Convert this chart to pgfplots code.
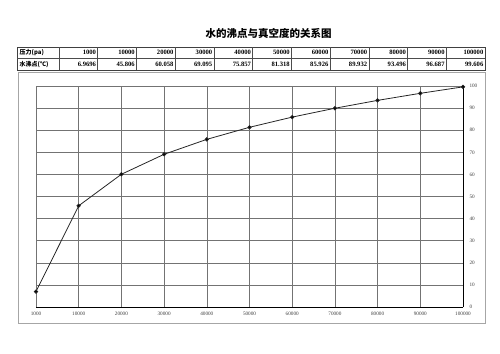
\documentclass[border=0pt]{standalone}
\usepackage{fontspec}
\setmainfont{Liberation Serif}
\newfontfamily\cjk{Noto Sans CJK SC}
\usepackage{pgfplots}
\pgfplotsset{compat=1.18}
\begin{document}
\begin{tikzpicture}[x=1pt,y=1pt]
\path[use as bounding box] (0,0) rectangle (500,353);
% title
\node[font=\cjk\bfseries\fontsize{10.5}{12}\selectfont] at (268.5,320) {水的沸点与真空度的关系图};
% table
\draw[line width=0.8pt,black!75] (17,282.5) rectangle (485,306);
\draw[line width=0.6pt,black!70] (17,294.5) -- (485,294.5);
\foreach \c in {59,97.73,136.45,175.18,213.91,252.64,291.36,330.09,368.82,407.55,446.27}
  \draw[line width=0.6pt,black!70] (\c,282.5) -- (\c,306);
\node[anchor=west,font=\cjk\bfseries\fontsize{6}{7}\selectfont,inner sep=0pt] at (19.5,300.2) {压力(pa)};
\node[anchor=west,font=\cjk\bfseries\fontsize{6}{7}\selectfont,inner sep=0pt] at (19.5,288.5) {水沸点(℃)};
\foreach \r/\p/\t in {97.73/1000/6.9696,136.45/10000/45.806,175.18/20000/60.058,213.91/30000/69.095,252.64/40000/75.857,291.36/50000/81.318,330.09/60000/85.926,368.82/70000/89.932,407.55/80000/93.496,446.27/90000/96.687,485/100000/99.606}{
  \node[anchor=east,font=\bfseries\fontsize{6.6}{7.5}\selectfont,inner sep=0pt] at (\r-1.5,300.2) {\p};
  \node[anchor=east,font=\bfseries\fontsize{6.6}{7.5}\selectfont,inner sep=0pt] at (\r-1.5,288.5) {\t};
}
% frame
\draw[line width=0.8pt,black!35] (18.5,30) rectangle (485,281);
\begin{axis}[
  at={(36pt,46pt)}, anchor=south west,
  scale only axis, width=427pt, height=221pt,
  xmin=0, xmax=10, ymin=0, ymax=100,
  xtick={0,...,10},
  xticklabels={1000,10000,20000,30000,40000,50000,60000,70000,80000,90000,100000},
  ytick={0,10,...,100},
  yticklabel pos=right,
  axis x line=bottom, axis y line=right,
  axis line style={-, black, line width=0.9pt},
  grid=major, grid style={black!55, line width=0.5pt},
  major tick length=0pt,
  /pgf/number format/assume math mode=true,
  ticklabel style={font=\fontsize{5.2}{6}\selectfont, text=black!75},
  xticklabel style={yshift=-2pt},
  yticklabel style={xshift=3pt},
  clip=false,
]
\addplot[black!85, line width=0.8pt, mark=*, mark size=1.7pt, mark options={fill=black}] coordinates {
(0,6.9696) (1,45.806) (2,60.058) (3,69.095) (4,75.857) (5,81.318) (6,85.926) (7,89.932) (8,93.496) (9,96.687) (10,99.606)};
\end{axis}
\end{tikzpicture}
\end{document}
